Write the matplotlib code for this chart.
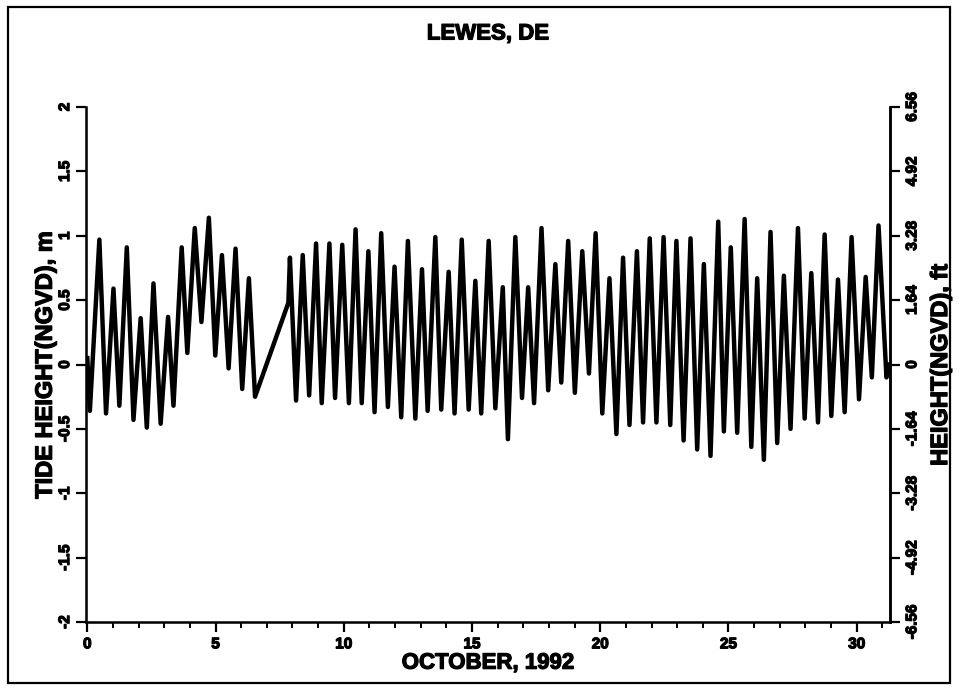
import matplotlib
matplotlib.use('Agg')
import matplotlib.pyplot as plt
import matplotlib.patheffects as pe
from matplotlib.patches import Rectangle
from matplotlib.ticker import FixedLocator, FixedFormatter, MultipleLocator

plt.rcParams['font.family'] = ['Liberation Sans', 'DejaVu Sans']
plt.rcParams['font.weight'] = 'bold'

# high/low water readings, day of October 1992 and height (m, NGVD)
days = [0.0, 0.1, 0.47, 0.73, 1.02, 1.25, 1.54, 1.8, 2.08, 2.32, 2.58, 2.86,
        3.15, 3.36, 3.68, 3.9, 4.19, 4.45, 4.74, 4.99, 5.25, 5.51, 5.78, 6.04,
        6.3, 6.54, 7.84, 7.9, 8.14, 8.4, 8.65, 8.92, 9.14, 9.44, 9.66, 9.94,
        10.2, 10.46, 10.7, 10.96, 11.2, 11.46, 11.72, 11.98, 12.24, 12.5,
        12.79, 13.05, 13.27, 13.57, 13.8, 14.09, 14.32, 14.6, 14.87, 15.13,
        15.36, 15.65, 15.91, 16.2, 16.4, 16.69, 16.95, 17.19, 17.42, 17.71,
        17.97, 18.25, 18.48, 18.75, 19.01, 19.3, 19.56, 19.82, 20.08, 20.36,
        20.63, 20.89, 21.14, 21.43, 21.67, 21.93, 22.19, 22.47, 22.73, 22.97,
        23.25, 23.52, 23.78, 24.04, 24.3, 24.6, 24.82, 25.09, 25.34, 25.63,
        25.89, 26.12, 26.38, 26.64, 26.9, 27.16, 27.42, 27.71, 27.97, 28.23,
        28.49, 28.75, 29.01, 29.27, 29.53, 29.8, 30.09, 30.35, 30.59, 30.85,
        31.16, 31.25]
height_m = [0.05, -0.36, 0.97, -0.38, 0.59, -0.32, 0.91, -0.43, 0.36, -0.49,
            0.63, -0.46, 0.37, -0.32, 0.91, 0.09, 1.06, 0.33, 1.14, 0.07, 0.85,
            -0.03, 0.90, -0.19, 0.67, -0.25, 0.48, 0.83, -0.28, 0.85, -0.24,
            0.94, -0.30, 0.94, -0.26, 0.93, -0.30, 1.05, -0.30, 0.88, -0.37,
            1.02, -0.33, 0.76, -0.41, 0.96, -0.42, 0.74, -0.36, 0.99, -0.35,
            0.72, -0.38, 0.97, -0.35, 0.65, -0.38, 0.96, -0.34, 0.60, -0.58,
            0.99, -0.26, 0.60, -0.30, 1.06, -0.20, 0.78, -0.14, 0.96, -0.22,
            0.88, -0.07, 1.02, -0.38, 0.67, -0.54, 0.83, -0.47, 0.88, -0.45,
            0.98, -0.45, 0.99, -0.47, 0.96, -0.59, 0.98, -0.66, 0.78, -0.71,
            1.11, -0.52, 0.91, -0.53, 1.13, -0.64, 0.67, -0.74, 1.03, -0.61,
            0.69, -0.50, 1.06, -0.42, 0.71, -0.45, 1.01, -0.40, 0.66, -0.37,
            0.99, -0.27, 0.68, -0.10, 1.08, -0.10, 0.0]

m_ticks = [-2, -1.5, -1, -0.5, 0, 0.5, 1, 1.5, 2]
m_labels = ['-2', '-1.5', '-1', '-0.5', '0', '0.5', '1', '1.5', '2']
ft_ticks = [-6.56, -4.92, -3.28, -1.64, 0, 1.64, 3.28, 4.92, 6.56]
ft_labels = ['-6.56', '-4.92', '-3.28', '-1.64', '0', '1.64', '3.28', '4.92', '6.56']
day_ticks = [0, 5, 10, 15, 20, 25, 30]

# heavier look, like the photocopied original
heavy = [pe.withStroke(linewidth=0.9, foreground='black')]

fig = plt.figure(figsize=(9.59, 6.89), dpi=100)
fig.patches.append(Rectangle((8/959, 6/689), 942/959, 676/689, transform=fig.transFigure,
                             fill=False, lw=1.6, ec='black'))

ax = fig.add_axes([0.0897, 0.0972, 0.8384, 0.7475])
ax.plot(days, height_m, color='black', lw=3.2, solid_joinstyle='round')
ax.set_xlim(-0.05, 31.3)
ax.set_ylim(-2, 2)
ax.spines['top'].set_visible(False)
for s in ['left', 'bottom', 'right']:
    ax.spines[s].set_linewidth(1.8)

ax.xaxis.set_major_locator(FixedLocator(day_ticks))
ax.xaxis.set_minor_locator(MultipleLocator(1))
ax.yaxis.set_major_locator(FixedLocator(m_ticks))
ax.yaxis.set_major_formatter(FixedFormatter(m_labels))
ax.tick_params(axis='x', which='major', length=7, width=1.6, labelsize=11, pad=4)
ax.tick_params(axis='x', which='minor', length=4, width=1.4)
ax.tick_params(axis='y', length=7, width=1.6, labelsize=11, labelrotation=90, pad=3)
for lab in ax.get_yticklabels() + ax.get_xticklabels():
    lab.set_path_effects(heavy)
for lab in ax.get_yticklabels():
    lab.set_va('center')

ax2 = ax.twinx()
ax2.set_ylim(-6.56, 6.56)
ax2.spines['top'].set_visible(False)
ax2.spines['right'].set_linewidth(1.8)
ax2.yaxis.set_major_locator(FixedLocator(ft_ticks))
ax2.yaxis.set_major_formatter(FixedFormatter(ft_labels))
ax2.tick_params(axis='y', length=7, width=1.6, labelsize=11, labelrotation=90, pad=4)
for lab in ax2.get_yticklabels():
    lab.set_va('center')
    lab.set_path_effects(heavy)

t = ax.set_title('LEWES, DE', fontsize=16, fontweight='bold', y=1.115)
xl = ax.set_xlabel('OCTOBER, 1992', fontsize=16, fontweight='bold', labelpad=1)
yl = ax.set_ylabel('TIDE HEIGHT(NGVD), m', fontsize=17, fontweight='bold', labelpad=1)
yr = ax2.set_ylabel('HEIGHT(NGVD), ft', fontsize=17, fontweight='bold', rotation=90, labelpad=7)
for txt in [t, xl, yl, yr]:
    txt.set_path_effects(heavy)

fig.savefig('out.png', dpi=100)
